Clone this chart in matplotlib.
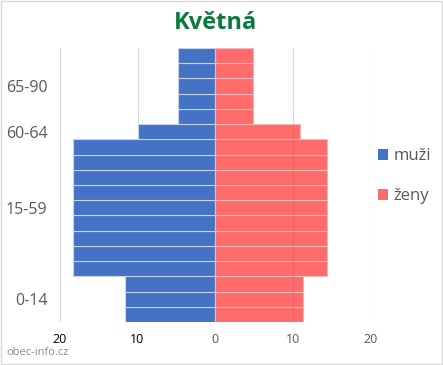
import matplotlib

matplotlib.use("Agg")
import matplotlib.pyplot as plt
from matplotlib.patches import Patch

# age bands from youngest (bottom) to oldest (top); each group split into equal 5-year bars
groups = ["0-14", "15-59", "60-64", "65-90"]
bars_per_group = [3, 9, 1, 5]
men = [11.6, 18.3, 10.0, 4.8]
women = [11.3, 14.5, 10.9, 4.9]

x_ticks = [-20, -10, 0, 10, 20]
x_tick_labels = ["20", "10", "0", "10", "20"]

BLUE = "#4472C4"
RED = "#FF6B6B"
FONT = ["Open Sans", "DejaVu Sans"]

plt.rcParams["font.family"] = FONT

fig = plt.figure(figsize=(4.43, 3.65), dpi=100)
ax = fig.add_axes([0.1354, 0.1178, 0.7000, 0.7507])

men_bars, women_bars, centers = [], [], []
pos = 0
for n, m, w in zip(bars_per_group, men, women):
    centers.append(pos + (n - 1) / 2)
    men_bars += [m] * n
    women_bars += [w] * n
    pos += n
y = list(range(len(men_bars)))

ax.barh(y, [-v for v in men_bars], height=1.0, color=BLUE, edgecolor="#c8d2e8", linewidth=0.8, zorder=2)
ax.barh(y, women_bars, height=1.0, color=RED, edgecolor="#f2b8b8", linewidth=0.8, zorder=2)

ax.set_xlim(-20, 20)
ax.set_ylim(-0.5, len(y) - 0.5)
for xv in x_ticks:
    ax.axvline(xv, color="#d9d9d9", lw=0.8, zorder=1)
    # gridline shows through the women's bars as a darker line
    if xv > 0:
        for yi, w in zip(y, women_bars):
            if w > xv:
                ax.vlines(xv, yi - 0.5, yi + 0.5, color="#808080", lw=0.8, alpha=0.35, zorder=3)

ax.set_xticks(x_ticks)
ax.set_xticklabels(x_tick_labels, fontsize=9)
for lbl, c in zip(ax.get_xticklabels(), ["black", "black", "#595959", "#595959", "#595959"]):
    lbl.set_color(c)
ax.set_yticks(centers)
ax.set_yticklabels(groups, fontsize=11.5, color="#595959")
ax.tick_params(axis="both", length=0)
ax.tick_params(axis="x", pad=8)
ax.tick_params(axis="y", pad=9)
for s in ax.spines.values():
    s.set_visible(False)

fig.text(0.486, 0.937, "Květná", ha="center", va="center", fontsize=17, fontweight="bold", color="#0B7A3E")

handles = [Patch(facecolor=BLUE, label="muži"), Patch(facecolor=RED, label="ženy")]
fig.legend(handles=handles, loc="upper left", bbox_to_anchor=(0.82, 0.635), frameon=False,
           fontsize=12, labelcolor="#595959", handlelength=0.6, handleheight=0.6,
           handletextpad=0.3, labelspacing=1.45)

fig.text(0.015, 0.035, "obec-info.cz", ha="left", va="center", fontsize=8, color="#8c8c8c")

fig.patches.append(plt.Rectangle((0.002, 0.003), 0.995, 0.994, transform=fig.transFigure,
                                 fill=False, edgecolor="#d9d9d9", lw=1.0))

fig.savefig("out.png", dpi=100, facecolor="white")
